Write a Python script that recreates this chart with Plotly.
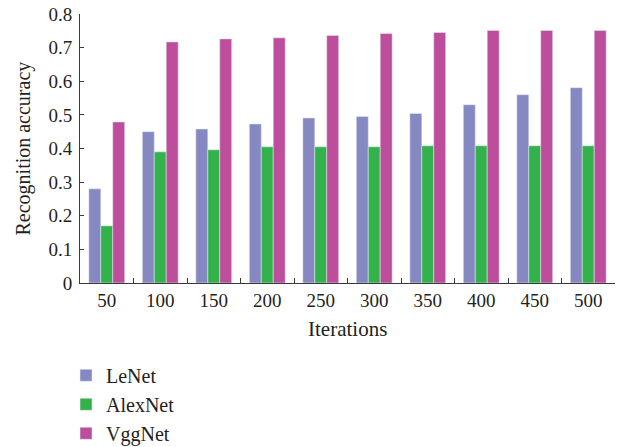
import plotly.graph_objects as go

iterations = ["50", "100", "150", "200", "250", "300", "350", "400", "450", "500"]
lenet = [0.28, 0.45, 0.458, 0.473, 0.491, 0.495, 0.504, 0.530, 0.560, 0.581]
alexnet = [0.17, 0.39, 0.396, 0.405, 0.405, 0.405, 0.408, 0.408, 0.408, 0.408]
vggnet = [0.479, 0.717, 0.726, 0.729, 0.736, 0.742, 0.745, 0.751, 0.751, 0.751]
y_ticks = [0, 0.1, 0.2, 0.3, 0.4, 0.5, 0.6, 0.7, 0.8]
y_ticklabels = ["0", "0.1", "0.2", "0.3", "0.4", "0.5", "0.6", "0.7", "0.8"]
x_title = "Iterations"
y_title = "Recognition accuracy"

font_family = "Liberation Serif"
text_color = "#231f20"

fig = go.Figure()
fig.add_trace(go.Bar(x=iterations, y=lenet, name="LeNet", marker_color="#8689C1", legendgroup="a"))
fig.add_trace(go.Bar(x=iterations, y=alexnet, name="AlexNet", marker_color="#33B24B", legendgroup="b"))
fig.add_trace(go.Bar(x=iterations, y=vggnet, name="VggNet", marker_color="#BC4E9C", legendgroup="c"))

fig.update_layout(
    width=624, height=447,
    margin=dict(l=80, r=9, t=14, b=164, pad=0, autoexpand=False),
    paper_bgcolor="white", plot_bgcolor="white",
    font=dict(family=font_family, size=19, color=text_color),
    barmode="group", bargap=0.33, bargroupgap=0,
    showlegend=True,
    legend=dict(
        orientation="v", xref="container", yref="container",
        x=0.1058, y=0.204, xanchor="left", yanchor="top",
        font=dict(size=20, family=font_family, color=text_color),
        tracegroupgap=0, itemwidth=30,
        bgcolor="rgba(0,0,0,0)",
    ),
    xaxis=dict(
        type="category", automargin=False, tickangle=0,
        showline=True, linecolor="#3a3a3a", linewidth=1,
        ticks="inside", tickson="boundaries", ticklen=5, tickcolor="#3a3a3a",
        showgrid=False, zeroline=False,
        tickfont=dict(size=19),
    ),
    yaxis=dict(
        range=[0, 0.8], tickvals=y_ticks, ticktext=y_ticklabels, automargin=False,
        showline=True, linecolor="#3a3a3a", linewidth=1,
        ticks="inside", ticklen=4, tickcolor="#3a3a3a",
        showgrid=False, zeroline=False, ticklabelstandoff=3,
        ticklabeloverflow="allow",
        tickfont=dict(size=19),
    ),
    annotations=[
        dict(text=x_title, xref="paper", yref="paper", x=0.5, y=-0.171,
             xanchor="center", yanchor="middle", showarrow=False,
             font=dict(size=21, family=font_family, color=text_color)),
        dict(text=y_title, xref="paper", yref="paper", x=-0.1065, y=0.5,
             xanchor="center", yanchor="middle", showarrow=False, textangle=-90,
             font=dict(size=20, family=font_family, color=text_color)),
    ],
)

fig.write_html("out.html", config={"displayModeBar": False},
               post_script="document.body.style.margin='0';")
